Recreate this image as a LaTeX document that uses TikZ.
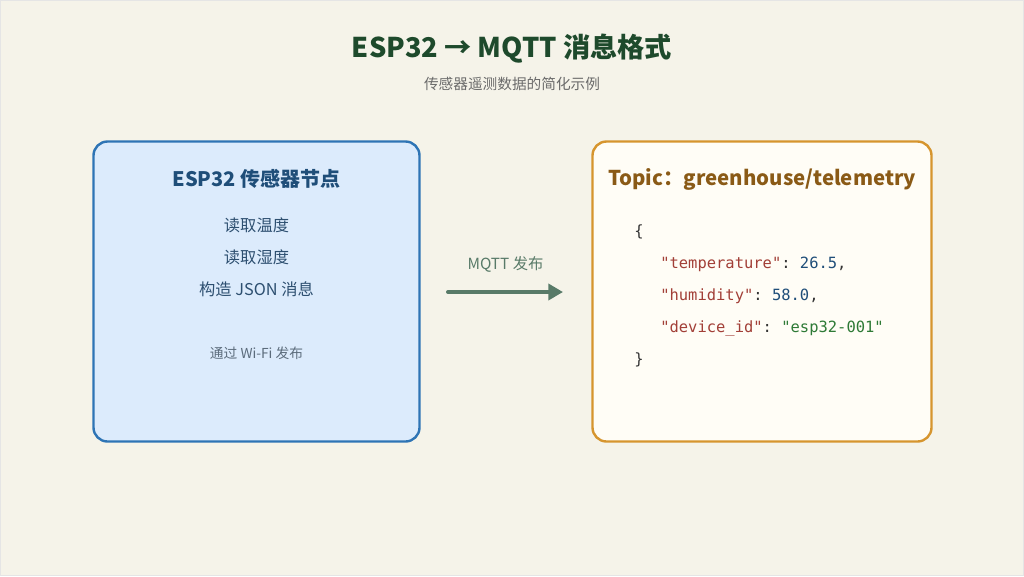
\documentclass[tikz,border=0pt]{standalone}
\usepackage{fontspec}
\setmainfont{Noto Sans CJK SC}
\newfontfamily\codefont{DejaVu Sans Mono}
\usetikzlibrary{arrows.meta}
\definecolor{bgc}{HTML}{F5F3E9}
\definecolor{titlec}{HTML}{1E4A2C}
\definecolor{subc}{HTML}{6B6B6B}
\definecolor{lfill}{HTML}{DCEBFC}
\definecolor{ldraw}{HTML}{2E74B5}
\definecolor{ltitle}{HTML}{1F4E79}
\definecolor{ltext}{HTML}{2D4F70}
\definecolor{lnote}{HTML}{5B6B7B}
\definecolor{rfill}{HTML}{FFFDF6}
\definecolor{rdraw}{HTML}{D6952E}
\definecolor{rtitle}{HTML}{8A5A16}
\definecolor{arrc}{HTML}{587A68}
\definecolor{keyc}{HTML}{A23F37}
\definecolor{numc}{HTML}{1F4E79}
\definecolor{strc}{HTML}{2E7A36}
\definecolor{punc}{HTML}{333333}
\tikzset{
  panel/.style={rounded corners=14*0.75pt, line width=2.4*0.75pt},
  code/.style={anchor=west, inner sep=0pt, font=\codefont\fontsize{11.6}{14}\selectfont\frenchspacing, text=punc},
  ctext/.style={inner sep=0pt, anchor=center},
}
\begin{document}
\begin{tikzpicture}[x=0.75pt,y=-0.75pt]
\useasboundingbox (0,0) rectangle (1024,576);
\fill[bgc] (0,0) rectangle (1024,576);
\draw[color=black!10, line width=0.75pt] (0.5,0.5) rectangle (1023.5,575.5);
% title
\node[ctext, text=titlec, font=\fontsize{20.4}{24}\selectfont\bfseries] (title) at (512,49) {ESP32 → MQTT 消息格式};
\node[ctext, text=subc, font=\fontsize{11}{13}\selectfont] (sub) at (512,84) {传感器遥测数据的简化示例};
% left panel
\draw[panel, fill=lfill, draw=ldraw] (93.5,141.5) rectangle (419.5,441.5);
\node[ctext, text=ltitle, font=\fontsize{15}{18}\selectfont\bfseries] (ltitle) at (256.5,179) {ESP32 传感器节点};
\node[ctext, text=ltext, font=\fontsize{12.2}{14}\selectfont] (l1) at (256.5,225) {读取温度};
\node[ctext, text=ltext, font=\fontsize{12.2}{14}\selectfont] (l2) at (256.5,257) {读取湿度};
\node[ctext, text=ltext, font=\fontsize{12.2}{14}\selectfont] (l3) at (256.5,289) {构造 JSON 消息};
\node[ctext, text=lnote, font=\fontsize{10.3}{12}\selectfont] (l4) at (256.5,353) {通过 Wi-Fi 发布};
% right panel
\draw[panel, fill=rfill, draw=rdraw] (592.5,141.5) rectangle (931.5,441.5);
\node[anchor=west, inner sep=0pt, text=rtitle, font=\fontsize{15.3}{18}\selectfont\bfseries] (rtitle) at (608,179) {Topic：greenhouse/telemetry};
\node[code] (c1) at (634,232) {\{};
\node[code] (c2) at (660,264) {\textcolor{keyc}{"temperature"}: \textcolor{numc}{26.5},};
\node[code] (c3) at (660,296) {\textcolor{keyc}{"humidity"}: \textcolor{numc}{58.0},};
\node[code] (c4) at (660,328) {\textcolor{keyc}{"device\_id"}: \textcolor{strc}{"esp32-001"}};
\node[code] (c5) at (634,360) {\}};
% arrow
\coordinate (as) at (448,292);
\coordinate (ae) at (563,292);
\draw[arrc, line width=4*0.75pt, line cap=round, -{Triangle[length=11pt,width=12pt]}] (as) -- (ae);
\node[ctext, text=arrc, font=\fontsize{11.5}{13}\selectfont] (alab) at (505.5,264) {MQTT 发布};
\end{tikzpicture}
\end{document}
